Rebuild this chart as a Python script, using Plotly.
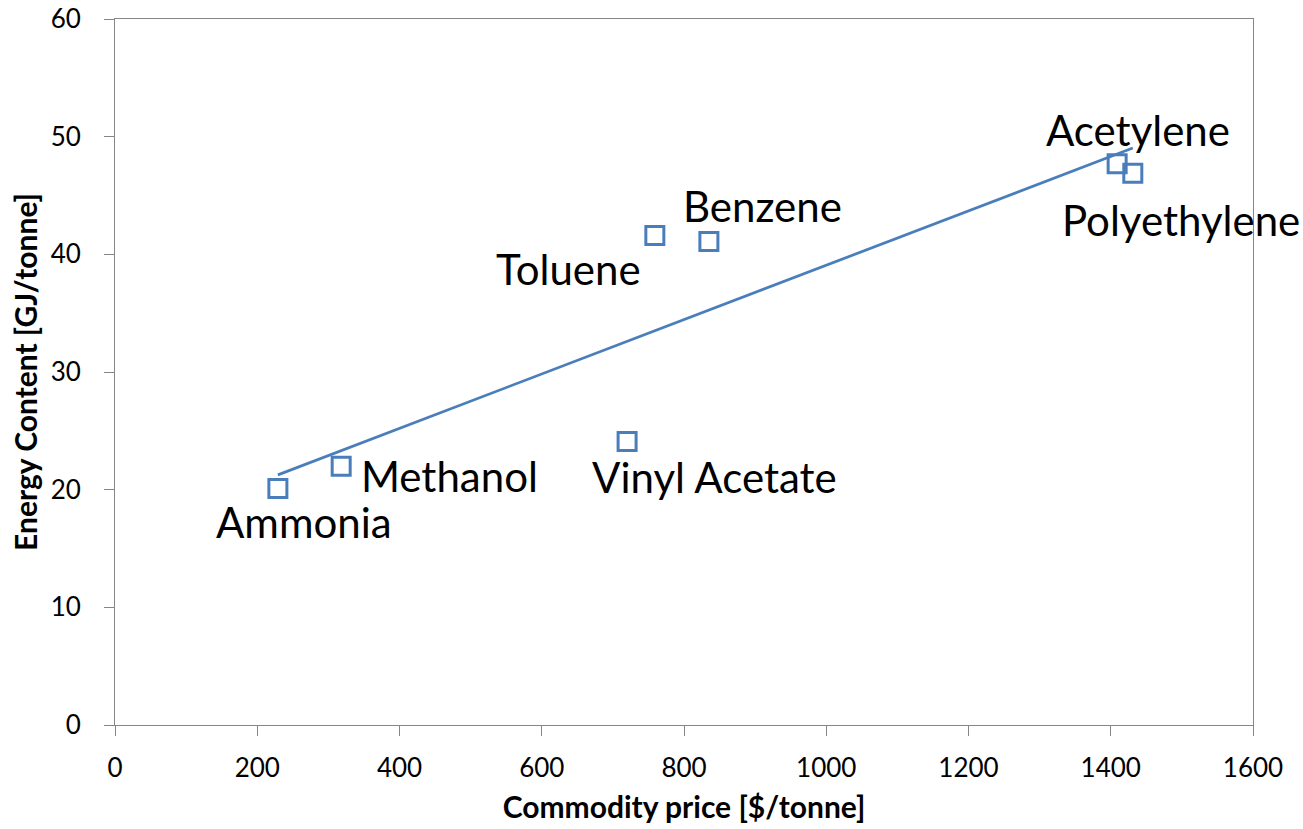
import numpy as np
import plotly.graph_objects as go

names = ["Ammonia", "Methanol", "Vinyl Acetate", "Toluene", "Benzene", "Acetylene", "Polyethylene"]
price = [229, 318, 720, 759, 835, 1409, 1431]
energy = [20.1, 22.0, 24.1, 41.6, 41.1, 47.7, 46.9]

# label offsets in pixels (dx, dy down-positive) and anchor
label_dx = [26, 18, 87, -12, 54, 21, 48]
label_dy = [34, 10, 36, 33, -35, -34, 47]
label_anchor = ["center", "left", "center", "right", "center", "center", "center"]

color = "#4A7EBB"

slope, intercept = np.polyfit(price, energy, 1)
xfit = np.array([min(price), max(price)])
yfit = slope * xfit + intercept

fig = go.Figure()
fig.add_trace(go.Scatter(x=xfit, y=yfit, mode="lines",
                         line=dict(color=color, width=2.75), showlegend=False, hoverinfo="skip"))
fig.add_trace(go.Scatter(x=price, y=energy, mode="markers",
                         marker=dict(symbol="square-open", size=18, color=color,
                                     line=dict(color=color, width=3)),
                         showlegend=False, cliponaxis=False))

for n, x, y, dx, dy, a in zip(names, price, energy, label_dx, label_dy, label_anchor):
    fig.add_annotation(x=x, y=y, text=n, showarrow=False, xanchor=a, yanchor="middle",
                       xshift=dx, yshift=-dy,
                       font=dict(family="Lato", size=42, color="black"))

axis_common = dict(showline=True, linecolor="#868686", linewidth=1, mirror=True,
                   showgrid=False, zeroline=False, ticks="outside", ticklen=10,
                   automargin=False,
                   tickcolor="#868686", tickfont=dict(family="Lato", size=26, color="black"))

fig.update_xaxes(range=[0, 1600], dtick=200, tick0=0, ticklabelstandoff=10,
                 title=dict(text="<b>Commodity price [$/tonne]</b>",
                            font=dict(family="Lato", size=30, color="black"), standoff=14),
                 **axis_common)
fig.update_yaxes(range=[0, 60], dtick=10, tick0=0, ticklabelstandoff=18,
                 title=dict(text="<b>Energy Content [GJ/tonne]</b>",
                            font=dict(family="Lato", size=30, color="black"), standoff=4),
                 **axis_common)

fig.update_layout(width=1303, height=829, margin=dict(l=115, r=50, t=19, b=104),
                  plot_bgcolor="white", paper_bgcolor="white")

fig.write_html("out.html")
